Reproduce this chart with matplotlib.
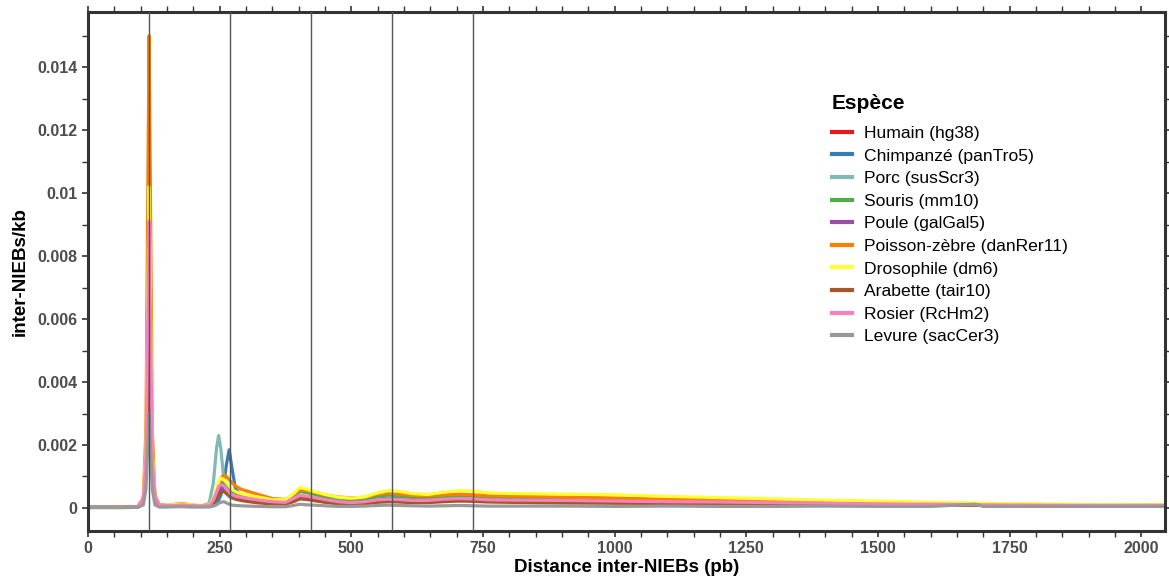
import numpy as np
import matplotlib.pyplot as plt
from matplotlib.ticker import MultipleLocator

plt.rcParams['font.family'] = ['Liberation Sans', 'DejaVu Sans']

dist = [0, 60, 95, 105, 110, 113, 116, 119, 122, 127,
        135, 150, 165, 178, 195, 215, 230, 238, 244, 248,
        252, 258, 263, 268, 273, 280, 290, 305, 325, 350,
        375, 390, 402, 415, 430, 450, 475, 500, 525, 550,
        570, 590, 615, 645, 675, 705, 730, 760, 800, 900,
        1000, 1100, 1200, 1300, 1400, 1500, 1600, 1685, 1700, 1800,
        1900, 2000, 2045]

# values in 1e-4 inter-NIEBs/kb
humain = [0.2, 0.2, 0.4, 3, 14, 48, 80, 48, 14, 3.5,
          1, 0.7, 0.8, 0.9, 0.8, 0.6, 0.8, 2, 4, 5.2,
          5.8, 6.0, 5.5, 4.8, 4.2, 3.8, 3.4, 3.0, 2.5, 2.0,
          1.8, 2.8, 3.5, 3.3, 3.0, 2.6, 2.1, 1.9, 2.1, 2.7,
          3.0, 2.9, 2.6, 2.6, 3.0, 3.2, 3.0, 2.8, 2.6, 2.4,
          2.2, 2.0, 1.8, 1.6, 1.5, 1.3, 1.2, 1.1, 1.0, 0.9,
          0.85, 0.8, 0.8]
chimp = [0.2, 0.2, 0.4, 3, 14, 48, 78, 48, 14, 3.5,
         1, 0.7, 0.8, 0.9, 0.8, 0.6, 0.7, 1.0, 1.5, 2.5,
         4, 8, 14, 18.5, 13, 6, 4.2, 3.4, 2.7, 2.1,
         1.9, 2.9, 3.6, 3.4, 3.1, 2.6, 2.1, 1.9, 2.1, 2.8,
         3.1, 3.0, 2.7, 2.6, 3.0, 3.2, 3.0, 2.8, 2.6, 2.4,
         2.2, 2.0, 1.8, 1.6, 1.5, 1.3, 1.2, 1.1, 1.0, 0.9,
         0.85, 0.8, 0.8]
porc = [0.2, 0.2, 0.4, 3, 13, 45, 75, 45, 13, 3.5,
        1, 0.7, 0.8, 0.9, 0.8, 0.6, 1.5, 8, 19, 23,
        19, 9, 4.5, 3.5, 3.2, 3.0, 2.8, 2.5, 2.2, 1.8,
        1.7, 2.7, 3.4, 3.2, 2.9, 2.4, 2.0, 1.8, 2.0, 2.6,
        2.8, 2.7, 2.5, 2.4, 2.8, 2.9, 2.8, 2.6, 2.4, 2.2,
        2.0, 1.8, 1.7, 1.5, 1.4, 1.2, 1.1, 1.0, 0.9, 0.85,
        0.8, 0.8, 0.8]
souris = [0.2, 0.2, 0.4, 3, 15, 52, 85, 52, 15, 4,
          1, 0.8, 0.9, 1.1, 0.9, 0.6, 0.9, 2.5, 5, 7,
          8, 8, 7.2, 6.2, 5.2, 4.6, 4.0, 3.5, 3.0, 2.3,
          2.2, 3.8, 5.2, 4.9, 4.3, 3.5, 2.7, 2.4, 2.8, 3.8,
          4.1, 3.9, 3.4, 3.3, 3.7, 3.9, 3.8, 3.4, 3.2, 3.0,
          2.8, 2.5, 2.2, 2.0, 1.8, 1.6, 1.4, 1.3, 1.2, 1.1,
          1.0, 0.9, 0.9]
poule = [0.2, 0.2, 0.4, 3, 13, 45, 72, 45, 13, 3.5,
         1, 0.6, 0.7, 0.8, 0.7, 0.5, 0.7, 2, 4, 5.5,
         6.3, 6.5, 5.8, 5, 4.2, 3.6, 3.1, 2.7, 2.2, 1.8,
         1.6, 2.5, 3.2, 3.0, 2.7, 2.3, 1.8, 1.6, 1.8, 2.4,
         2.6, 2.5, 2.2, 2.2, 2.6, 2.7, 2.6, 2.4, 2.3, 2.1,
         2.0, 1.8, 1.6, 1.5, 1.3, 1.2, 1.1, 1.0, 0.9, 0.85,
         0.8, 0.75, 0.75]
zebre = [0.2, 0.2, 0.4, 3, 25, 90, 150, 90, 25, 4,
         1, 0.8, 1.2, 1.5, 1.0, 0.7, 1.0, 2.5, 5, 7.5,
         9.5, 10.5, 10, 9, 8, 7, 6, 5.2, 4.2, 3.0,
         2.7, 4.2, 5.8, 5.5, 5.0, 4.2, 3.5, 3.2, 3.4, 4.4,
         4.7, 4.5, 4.0, 3.8, 4.2, 4.4, 4.2, 3.9, 3.8, 3.5,
         3.2, 2.8, 2.5, 2.2, 2.0, 1.7, 1.5, 1.3, 1.3, 1.1,
         1.0, 0.9, 0.9]
droso = [0.2, 0.2, 0.4, 3, 18, 60, 102, 60, 18, 4,
         1, 0.8, 1.1, 1.3, 1.0, 0.7, 1.0, 3, 6, 8.5,
         9.5, 9.0, 8, 7, 6, 5.2, 4.6, 4.0, 3.4, 2.6,
         2.6, 4.5, 6.5, 6.0, 5.2, 4.3, 3.4, 3.1, 3.5, 4.8,
         5.5, 5.3, 4.6, 4.3, 5.0, 5.5, 5.4, 4.8, 4.6, 4.4,
         4.2, 3.7, 3.3, 2.9, 2.5, 2.2, 1.8, 1.6, 1.5, 1.3,
         1.1, 1.0, 1.0]
arabette = [0.2, 0.2, 0.4, 2.5, 10, 35, 60, 35, 10, 3,
            0.8, 0.5, 0.6, 0.7, 0.6, 0.5, 0.6, 1.5, 3, 4.2,
            5.0, 5.2, 4.6, 4.0, 3.3, 2.8, 2.4, 2.0, 1.6, 1.3,
            1.2, 2.0, 2.9, 2.7, 2.3, 1.8, 1.3, 1.1, 1.3, 1.8,
            2.0, 1.9, 1.7, 1.7, 2.0, 2.2, 2.1, 1.9, 1.8, 1.6,
            1.5, 1.4, 1.3, 1.2, 1.1, 1.0, 0.9, 0.9, 0.8, 0.7,
            0.7, 0.65, 0.65]
rosier = [0.2, 0.2, 0.4, 3, 16, 55, 91, 55, 16, 4,
          1, 0.7, 0.8, 1.0, 0.8, 0.6, 0.8, 2.5, 5, 6.8,
          7.5, 7.0, 6, 5, 4.3, 3.8, 3.4, 3.0, 2.5, 2.0,
          1.8, 3.0, 4.0, 3.8, 3.3, 2.7, 2.0, 1.7, 2.0, 2.6,
          2.8, 2.7, 2.4, 2.4, 2.8, 3.0, 2.9, 2.6, 2.5, 2.4,
          2.2, 2.0, 1.9, 1.7, 1.5, 1.3, 1.2, 1.1, 1.0, 0.9,
          0.85, 0.8, 0.8]
levure = [0.1, 0.1, 0.2, 1, 6, 18, 30, 18, 6, 1,
          0.3, 0.3, 0.4, 0.4, 0.3, 0.3, 0.3, 0.6, 1.0, 1.5,
          1.8, 2.0, 1.6, 1.2, 0.9, 0.8, 0.7, 0.6, 0.5, 0.4,
          0.4, 0.8, 1.2, 1.0, 0.9, 0.7, 0.5, 0.5, 0.6, 0.8,
          0.9, 0.8, 0.7, 0.6, 0.7, 0.8, 0.7, 0.6, 0.6, 0.6,
          0.5, 0.6, 0.5, 0.5, 0.6, 0.5, 0.5, 1.2, 0.5, 0.5,
          0.5, 0.5, 0.5]

labels = ['Humain (hg38)', 'Chimpanzé (panTro5)', 'Porc (susScr3)', 'Souris (mm10)',
          'Poule (galGal5)', 'Poisson-zèbre (danRer11)', 'Drosophile (dm6)',
          'Arabette (tair10)', 'Rosier (RcHm2)', 'Levure (sacCer3)']
series = [humain, chimp, porc, souris, poule, zebre, droso, arabette, rosier, levure]
colors = ['#E41A1C', '#377EB8', '#80B9B5', '#4DAF4A', '#984EA3',
          '#FF7F00', '#FFFF33', '#A65628', '#F781BF', '#999999']

# vertical reference lines (nucleosome repeat multiples)
vlines = [116, 270, 424, 577, 731]

fig = plt.figure(figsize=(11.69, 5.81), dpi=100)
ax = fig.add_axes([0.0753, 0.0861, 0.9213, 0.8932])

for s, lab, c in zip(series, labels, colors):
    ax.plot(dist, np.array(s) * 1e-4, color=c, lw=2.3, label=lab, zorder=2)

for v in vlines:
    ax.axvline(v, color='#555555', lw=1.0, zorder=3)

ax.set_xlim(0, 2045)
ax.set_ylim(-0.00073, 0.01575)

yt = [0, 0.002, 0.004, 0.006, 0.008, 0.01, 0.012, 0.014]
ax.set_yticks(yt)
ax.set_yticklabels(['0', '0.002', '0.004', '0.006', '0.008', '0.01', '0.012', '0.014'])
ax.yaxis.set_minor_locator(MultipleLocator(0.001))
ax.set_xticks([0, 250, 500, 750, 1000, 1250, 1500, 1750, 2000])
ax.xaxis.set_minor_locator(MultipleLocator(50))

ax.tick_params(which='both', direction='out', color='#333333', top=True, right=True,
               labeltop=False, labelright=False)
ax.tick_params(which='major', length=4, width=1.2, labelsize=11.5, labelcolor='#4d4d4d')
ax.tick_params(which='minor', length=4, width=1.0)
for lbl in ax.get_xticklabels() + ax.get_yticklabels():
    lbl.set_fontweight('bold')

for sp in ax.spines.values():
    sp.set_color('#333333')
    sp.set_linewidth(2.2)

ax.set_xlabel('Distance inter-NIEBs (pb)', fontsize=13.5, fontweight='bold', labelpad=2)
ax.set_ylabel('inter-NIEBs/kb', fontsize=13.5, fontweight='bold', labelpad=6)

leg = ax.legend(loc='upper left', bbox_to_anchor=(0.676, 0.872), frameon=False,
                fontsize=12.6, title='Espèce', handlelength=1.15, handletextpad=0.68,
                labelspacing=0.42, alignment='left')
leg.get_title().set_fontweight('bold')
leg.get_title().set_fontsize(15)
leg._legend_box.sep = 9
for h in leg.get_lines():
    h.set_linewidth(3)

fig.savefig('out.png', dpi=100)
